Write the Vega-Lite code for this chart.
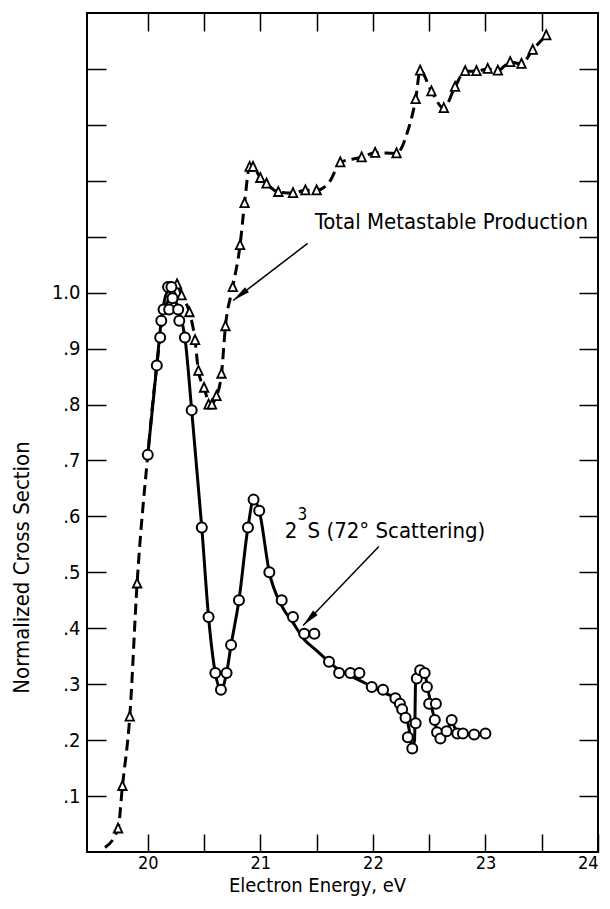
{
  "$schema": "https://vega.github.io/schema/vega-lite/v6.json",
  "width": 511,
  "height": 839,
  "autosize": "none",
  "padding": {"left": 87, "top": 13, "right": 12, "bottom": 57},
  "background": "white",
  "config": {
    "view": {"stroke": "black", "strokeWidth": 2},
    "font": "DejaVu Sans Condensed, Liberation Sans Narrow, Liberation Sans, sans-serif",
    "axis": {"grid": false, "domain": false, "tickColor": "black", "tickWidth": 1.5, "labelColor": "black", "titleColor": "black", "labelFont": "DejaVu Sans Condensed, Liberation Sans Narrow, Liberation Sans, sans-serif", "titleFont": "DejaVu Sans Condensed, Liberation Sans Narrow, Liberation Sans, sans-serif", "titleFontWeight": "normal"}
  },
  "datasets": {
    "circles": [
      {"E": 20.00, "sigma": 0.71}, {"E": 20.08, "sigma": 0.87}, {"E": 20.11, "sigma": 0.92}, {"E": 20.12, "sigma": 0.95},
      {"E": 20.14, "sigma": 0.97}, {"E": 20.18, "sigma": 1.01}, {"E": 20.19, "sigma": 0.97}, {"E": 20.21, "sigma": 1.01},
      {"E": 20.22, "sigma": 0.99}, {"E": 20.27, "sigma": 0.97}, {"E": 20.28, "sigma": 0.95}, {"E": 20.33, "sigma": 0.92},
      {"E": 20.39, "sigma": 0.79}, {"E": 20.48, "sigma": 0.58}, {"E": 20.54, "sigma": 0.42}, {"E": 20.60, "sigma": 0.32},
      {"E": 20.65, "sigma": 0.29}, {"E": 20.70, "sigma": 0.32}, {"E": 20.74, "sigma": 0.37}, {"E": 20.81, "sigma": 0.45},
      {"E": 20.89, "sigma": 0.58}, {"E": 20.94, "sigma": 0.63}, {"E": 20.99, "sigma": 0.61}, {"E": 21.08, "sigma": 0.50},
      {"E": 21.19, "sigma": 0.45}, {"E": 21.29, "sigma": 0.42}, {"E": 21.39, "sigma": 0.39}, {"E": 21.48, "sigma": 0.39},
      {"E": 21.61, "sigma": 0.34}, {"E": 21.70, "sigma": 0.32}, {"E": 21.80, "sigma": 0.32}, {"E": 21.88, "sigma": 0.32},
      {"E": 21.99, "sigma": 0.295}, {"E": 22.09, "sigma": 0.29}, {"E": 22.20, "sigma": 0.275}, {"E": 22.24, "sigma": 0.265},
      {"E": 22.26, "sigma": 0.255}, {"E": 22.29, "sigma": 0.24}, {"E": 22.31, "sigma": 0.205}, {"E": 22.35, "sigma": 0.185},
      {"E": 22.38, "sigma": 0.23}, {"E": 22.39, "sigma": 0.31}, {"E": 22.42, "sigma": 0.325}, {"E": 22.46, "sigma": 0.32},
      {"E": 22.48, "sigma": 0.295}, {"E": 22.50, "sigma": 0.265}, {"E": 22.56, "sigma": 0.265}, {"E": 22.55, "sigma": 0.236},
      {"E": 22.57, "sigma": 0.214}, {"E": 22.60, "sigma": 0.203}, {"E": 22.655, "sigma": 0.216}, {"E": 22.70, "sigma": 0.236},
      {"E": 22.75, "sigma": 0.212}, {"E": 22.80, "sigma": 0.212}, {"E": 22.90, "sigma": 0.21}, {"E": 23.00, "sigma": 0.212}
    ],
    "solid_curve": [
      {"E": 20.00, "sigma": 0.71}, {"E": 20.08, "sigma": 0.87}, {"E": 20.12, "sigma": 0.95}, {"E": 20.17, "sigma": 1.0},
      {"E": 20.21, "sigma": 1.005}, {"E": 20.27, "sigma": 0.97}, {"E": 20.33, "sigma": 0.92}, {"E": 20.39, "sigma": 0.79},
      {"E": 20.48, "sigma": 0.58}, {"E": 20.54, "sigma": 0.42}, {"E": 20.60, "sigma": 0.32}, {"E": 20.65, "sigma": 0.29},
      {"E": 20.70, "sigma": 0.32}, {"E": 20.74, "sigma": 0.37}, {"E": 20.81, "sigma": 0.45}, {"E": 20.89, "sigma": 0.58},
      {"E": 20.94, "sigma": 0.63}, {"E": 20.99, "sigma": 0.61}, {"E": 21.08, "sigma": 0.50}, {"E": 21.19, "sigma": 0.44},
      {"E": 21.29, "sigma": 0.41}, {"E": 21.39, "sigma": 0.38}, {"E": 21.50, "sigma": 0.36}, {"E": 21.61, "sigma": 0.34},
      {"E": 21.70, "sigma": 0.325}, {"E": 21.80, "sigma": 0.315}, {"E": 21.90, "sigma": 0.305}, {"E": 22.00, "sigma": 0.295},
      {"E": 22.09, "sigma": 0.285}, {"E": 22.20, "sigma": 0.275}, {"E": 22.26, "sigma": 0.26}, {"E": 22.30, "sigma": 0.24},
      {"E": 22.33, "sigma": 0.21}, {"E": 22.35, "sigma": 0.185}, {"E": 22.37, "sigma": 0.2}, {"E": 22.38, "sigma": 0.31},
      {"E": 22.42, "sigma": 0.33}, {"E": 22.46, "sigma": 0.32}, {"E": 22.49, "sigma": 0.29}, {"E": 22.52, "sigma": 0.26},
      {"E": 22.55, "sigma": 0.236}, {"E": 22.57, "sigma": 0.214}, {"E": 22.60, "sigma": 0.205}, {"E": 22.65, "sigma": 0.215},
      {"E": 22.70, "sigma": 0.23}, {"E": 22.75, "sigma": 0.215}, {"E": 22.80, "sigma": 0.212}, {"E": 22.90, "sigma": 0.21},
      {"E": 23.00, "sigma": 0.212}
    ],
    "triangles": [
      {"E": 19.736, "sigma": 0.042}, {"E": 19.775, "sigma": 0.118}, {"E": 19.84, "sigma": 0.242}, {"E": 19.905, "sigma": 0.48},
      {"E": 20.22, "sigma": 1.0}, {"E": 20.26, "sigma": 1.015}, {"E": 20.30, "sigma": 0.995}, {"E": 20.37, "sigma": 0.965},
      {"E": 20.42, "sigma": 0.915}, {"E": 20.45, "sigma": 0.86}, {"E": 20.50, "sigma": 0.83}, {"E": 20.54, "sigma": 0.80},
      {"E": 20.57, "sigma": 0.80}, {"E": 20.61, "sigma": 0.815}, {"E": 20.655, "sigma": 0.855}, {"E": 20.69, "sigma": 0.94},
      {"E": 20.755, "sigma": 1.01}, {"E": 20.82, "sigma": 1.085}, {"E": 20.86, "sigma": 1.16}, {"E": 20.905, "sigma": 1.225},
      {"E": 20.935, "sigma": 1.225}, {"E": 21.00, "sigma": 1.205}, {"E": 21.055, "sigma": 1.195}, {"E": 21.16, "sigma": 1.18},
      {"E": 21.29, "sigma": 1.178}, {"E": 21.40, "sigma": 1.183}, {"E": 21.50, "sigma": 1.183}, {"E": 21.71, "sigma": 1.233},
      {"E": 21.90, "sigma": 1.242}, {"E": 22.02, "sigma": 1.25}, {"E": 22.21, "sigma": 1.249}, {"E": 22.38, "sigma": 1.346},
      {"E": 22.42, "sigma": 1.397}, {"E": 22.52, "sigma": 1.36}, {"E": 22.63, "sigma": 1.33}, {"E": 22.73, "sigma": 1.368},
      {"E": 22.82, "sigma": 1.396}, {"E": 22.92, "sigma": 1.396}, {"E": 23.02, "sigma": 1.40}, {"E": 23.11, "sigma": 1.397},
      {"E": 23.22, "sigma": 1.412}, {"E": 23.32, "sigma": 1.409}, {"E": 23.42, "sigma": 1.434}, {"E": 23.54, "sigma": 1.46}
    ],
    "dashed_curve": [
      {"E": 19.62, "sigma": 0.008}, {"E": 19.736, "sigma": 0.042}, {"E": 19.775, "sigma": 0.118}, {"E": 19.84, "sigma": 0.242},
      {"E": 19.905, "sigma": 0.48}, {"E": 20.00, "sigma": 0.71}, {"E": 20.08, "sigma": 0.87}, {"E": 20.14, "sigma": 0.96},
      {"E": 20.22, "sigma": 1.0}, {"E": 20.26, "sigma": 1.015}, {"E": 20.30, "sigma": 0.995}, {"E": 20.37, "sigma": 0.965},
      {"E": 20.42, "sigma": 0.915}, {"E": 20.45, "sigma": 0.86}, {"E": 20.50, "sigma": 0.83}, {"E": 20.555, "sigma": 0.80},
      {"E": 20.61, "sigma": 0.815}, {"E": 20.655, "sigma": 0.855}, {"E": 20.69, "sigma": 0.94}, {"E": 20.755, "sigma": 1.01},
      {"E": 20.82, "sigma": 1.085}, {"E": 20.86, "sigma": 1.16}, {"E": 20.905, "sigma": 1.225}, {"E": 20.935, "sigma": 1.225},
      {"E": 21.00, "sigma": 1.205}, {"E": 21.055, "sigma": 1.195}, {"E": 21.16, "sigma": 1.18}, {"E": 21.29, "sigma": 1.178},
      {"E": 21.40, "sigma": 1.183}, {"E": 21.50, "sigma": 1.183}, {"E": 21.62, "sigma": 1.2}, {"E": 21.71, "sigma": 1.233},
      {"E": 21.90, "sigma": 1.242}, {"E": 22.02, "sigma": 1.25}, {"E": 22.21, "sigma": 1.249}, {"E": 22.31, "sigma": 1.289},
      {"E": 22.38, "sigma": 1.346}, {"E": 22.42, "sigma": 1.397}, {"E": 22.52, "sigma": 1.36}, {"E": 22.63, "sigma": 1.33},
      {"E": 22.73, "sigma": 1.368}, {"E": 22.82, "sigma": 1.396}, {"E": 22.92, "sigma": 1.396}, {"E": 23.02, "sigma": 1.40},
      {"E": 23.11, "sigma": 1.397}, {"E": 23.22, "sigma": 1.412}, {"E": 23.32, "sigma": 1.409}, {"E": 23.42, "sigma": 1.434},
      {"E": 23.54, "sigma": 1.46}
    ],
    "arrows": [
      {"name": "total", "E": 21.42, "sigma": 1.088, "E2": 20.758, "sigma2": 0.986},
      {"name": "s23", "E": 22.053, "sigma": 0.546, "E2": 21.38, "sigma2": 0.405}
    ],
    "labels": [
      {"E": 21.484, "sigma": 1.114, "text": "Total Metastable Production"},
      {"E": 21.218, "sigma": 0.561, "text": "2"},
      {"E": 21.42, "sigma": 0.561, "text": "S (72° Scattering)"}
    ],
    "superscripts": [
      {"E": 21.33, "sigma": 0.593, "text": "3"}
    ]
  },
  "layer": [
    {
      "data": {"name": "solid_curve"},
      "mark": {"type": "line", "color": "black", "strokeWidth": 3, "interpolate": "monotone"},
      "encoding": {
        "x": {"field": "E", "type": "quantitative", "scale": {"domain": [19.46, 24], "nice": false, "zero": false},
          "axis": {"orient": "bottom", "values": [20, 20.5, 21, 21.5, 22, 22.5, 23, 23.5, 24], "tickSize": -18,
            "labelExpr": "datum.value % 1 == 0 ? format(datum.value, 'd') : ''", "labelFontSize": 18, "labelPadding": 20,
            "title": "Electron Energy,  eV", "titleFontSize": 20, "titleX": 230, "titleY": 39, "titleAlign": "center", "titleBaseline": "alphabetic"}},
        "y": {"field": "sigma", "type": "quantitative", "scale": {"domain": [0, 1.5], "nice": false, "zero": false},
          "axis": {"orient": "left", "values": [0.1, 0.2, 0.3, 0.4, 0.5, 0.6, 0.7, 0.8, 0.9, 1.0, 1.1, 1.2, 1.3, 1.4], "tickSize": -19,
            "labelExpr": "datum.value > 1.01 ? '' : (datum.value > 0.99 ? '1.0' : '.' + round(datum.value * 10))", "labelFontSize": 20, "labelPadding": 26,
            "title": "Normalized Cross Section", "titleFontSize": 22, "titleX": -66, "titleY": 554, "titleAlign": "center", "titleBaseline": "middle", "titleAngle": -90}}
      }
    },
    {
      "data": {"name": "dashed_curve"},
      "mark": {"type": "line", "color": "black", "strokeWidth": 3, "strokeDash": [11, 6], "interpolate": "monotone"},
      "encoding": {
        "x": {"field": "E", "type": "quantitative", "scale": {"domain": [19.46, 24], "nice": false, "zero": false},
          "axis": {"orient": "top", "values": [20, 20.5, 21, 21.5, 22, 22.5, 23, 23.5], "tickSize": -18, "labels": false, "title": null}},
        "y": {"field": "sigma", "type": "quantitative", "scale": {"domain": [0, 1.5], "nice": false, "zero": false},
          "axis": {"orient": "right", "values": [0.1, 0.2, 0.3, 0.4, 0.5, 0.6, 0.7, 0.8, 0.9, 1.0, 1.1, 1.2, 1.3, 1.4], "tickSize": -19, "labels": false, "title": null}}
      }
    },
    {
      "data": {"name": "triangles"},
      "mark": {"type": "point", "shape": "M0,-1L-0.85,0.8L0.85,0.8Z", "size": 100, "filled": true, "fill": "white", "stroke": "black", "strokeWidth": 1.8, "opacity": 1},
      "encoding": {
        "x": {"field": "E", "type": "quantitative", "scale": {"domain": [19.46, 24], "nice": false, "zero": false}, "axis": null},
        "y": {"field": "sigma", "type": "quantitative", "scale": {"domain": [0, 1.5], "nice": false, "zero": false}, "axis": null}
      }
    },
    {
      "data": {"name": "circles"},
      "mark": {"type": "point", "shape": "circle", "size": 100, "filled": true, "fill": "white", "stroke": "black", "strokeWidth": 2, "opacity": 1},
      "encoding": {
        "x": {"field": "E", "type": "quantitative", "scale": {"domain": [19.46, 24], "nice": false, "zero": false}, "axis": null},
        "y": {"field": "sigma", "type": "quantitative", "scale": {"domain": [0, 1.5], "nice": false, "zero": false}, "axis": null}
      }
    },
    {
      "data": {"name": "arrows"},
      "mark": {"type": "rule", "color": "black", "strokeWidth": 1.5},
      "encoding": {
        "x": {"field": "E", "type": "quantitative", "scale": {"domain": [19.46, 24], "nice": false, "zero": false}, "axis": null},
        "y": {"field": "sigma", "type": "quantitative", "scale": {"domain": [0, 1.5], "nice": false, "zero": false}, "axis": null},
        "x2": {"field": "E2"},
        "y2": {"field": "sigma2"}
      }
    },
    {
      "data": {"name": "arrows"},
      "transform": [{"filter": "datum.name == 'total'"}],
      "mark": {"type": "point", "shape": "M0,0L-0.4,2.2L0.4,2.2Z", "size": 256, "filled": true, "color": "black", "opacity": 1, "angle": 232},
      "encoding": {
        "x": {"field": "E2", "type": "quantitative", "scale": {"domain": [19.46, 24], "nice": false, "zero": false}, "axis": null},
        "y": {"field": "sigma2", "type": "quantitative", "scale": {"domain": [0, 1.5], "nice": false, "zero": false}, "axis": null}
      }
    },
    {
      "data": {"name": "arrows"},
      "transform": [{"filter": "datum.name == 's23'"}],
      "mark": {"type": "point", "shape": "M0,0L-0.4,2.2L0.4,2.2Z", "size": 256, "filled": true, "color": "black", "opacity": 1, "angle": 224},
      "encoding": {
        "x": {"field": "E2", "type": "quantitative", "scale": {"domain": [19.46, 24], "nice": false, "zero": false}, "axis": null},
        "y": {"field": "sigma2", "type": "quantitative", "scale": {"domain": [0, 1.5], "nice": false, "zero": false}, "axis": null}
      }
    },
    {
      "data": {"name": "labels"},
      "mark": {"type": "text", "align": "left", "baseline": "alphabetic", "fontSize": 22, "color": "black"},
      "encoding": {
        "x": {"field": "E", "type": "quantitative", "scale": {"domain": [19.46, 24], "nice": false, "zero": false}, "axis": null},
        "y": {"field": "sigma", "type": "quantitative", "scale": {"domain": [0, 1.5], "nice": false, "zero": false}, "axis": null},
        "text": {"field": "text"}
      }
    },
    {
      "data": {"name": "superscripts"},
      "mark": {"type": "text", "align": "left", "baseline": "alphabetic", "fontSize": 17, "color": "black"},
      "encoding": {
        "x": {"field": "E", "type": "quantitative", "scale": {"domain": [19.46, 24], "nice": false, "zero": false}, "axis": null},
        "y": {"field": "sigma", "type": "quantitative", "scale": {"domain": [0, 1.5], "nice": false, "zero": false}, "axis": null},
        "text": {"field": "text"}
      }
    }
  ],
  "resolve": {"axis": {"x": "independent", "y": "independent"}}
}
